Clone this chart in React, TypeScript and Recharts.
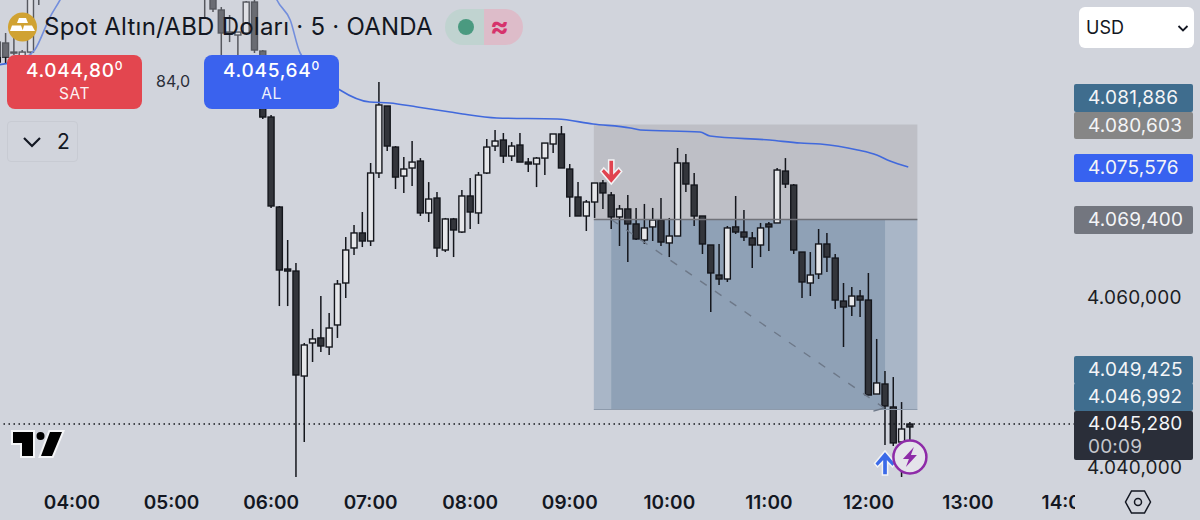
import React from 'react';
import { ComposedChart, Bar, Line, XAxis, YAxis, ReferenceArea, ReferenceLine, ReferenceDot } from 'recharts';

// bar numbers count 5-minute bars from 04:00
const slots = [
  -9, -8, -7, -6, -5, -4,
  16, 17, 18, 19, 20, 21, 22, 23, 24, 25, 26, 27, 28, 29, 30, 31, 32, 33,
  34, 35, 36, 37, 38, 39, 40, 41, 42, 43, 44, 45, 46, 47, 48, 49, 50, 51, 52, 53,
  54, 55, 56, 57, 58, 59, 60, 61, 62, 63, 64, 65, 66, 67, 68, 69, 70, 71, 72, 73,
  74, 75, 76, 77, 78, 79, 80, 81, 82, 83, 84, 85, 86, 87, 88, 89, 90, 91, 92, 93,
  94, 95, 96, 97, 98, 99, 100, 101,
];
const highs = [
  4090.56, 4091.39, 4091.15, 4089.38, 4097.64, 4096.46,
  4096.46, 4096.46, 4094.45, 4093.51, 4091.5, 4095.16, 4095.87, 4089.38,
  4081.72, 4070.99, 4066.98, 4064.27, 4054.84, 4056.49, 4060.37, 4058.37, 4062.26, 4067.33,
  4068.75, 4070.28, 4076.06, 4085.61, 4082.78, 4078.06, 4076.76, 4078.65, 4076.64, 4073.81,
  4072.64, 4069.58, 4069.58, 4072.88, 4074.29, 4075.0, 4078.89, 4079.95, 4079.6, 4078.53,
  4079.6, 4076.64, 4076.76, 4078.41, 4079.48, 4080.42, 4075.94, 4073.81, 4071.7, 4073.7,
  4074.05, 4072.64, 4071.11, 4072.29, 4070.76, 4071.23, 4070.76, 4071.93, 4069.58, 4077.83,
  4077.12, 4074.88, 4069.81, 4066.39, 4066.51, 4068.63, 4072.17, 4070.52, 4067.92, 4068.99,
  4069.1, 4075.47, 4076.64, 4073.58, 4065.56, 4065.56, 4068.28, 4067.81, 4065.33, 4061.91,
  4061.44, 4061.08, 4063.09, 4055.31, 4051.53, 4050.82, 4047.87, 4045.52,
];
const lows = [
  4087.49, 4087.85, 4088.79, 4088.44, 4088.79, 4094.69,
  4093.27, 4093.86, 4088.79, 4090.32, 4088.79, 4091.39, 4089.03, 4081.25,
  4070.76, 4059.19, 4059.19, 4039.03, 4043.16, 4052.59, 4053.77, 4053.42, 4055.43, 4060.14,
  4065.21, 4066.15, 4066.27, 4074.29, 4077.47, 4072.99, 4072.53, 4073.34, 4069.81, 4069.1,
  4064.97, 4065.56, 4064.97, 4067.81, 4068.28, 4068.87, 4074.76, 4077.47, 4076.06, 4076.29,
  4076.17, 4075.0, 4073.22, 4074.64, 4077.24, 4075.47, 4069.7, 4069.81, 4068.04, 4069.58,
  4070.64, 4068.28, 4066.27, 4064.38, 4066.98, 4066.51, 4066.86, 4066.27, 4064.97, 4067.45,
  4072.64, 4068.63, 4065.33, 4058.49, 4061.67, 4062.03, 4067.69, 4066.86, 4063.68, 4064.97,
  4065.68, 4068.99, 4073.11, 4065.33, 4060.14, 4060.37, 4062.38, 4063.2, 4058.84, 4054.36,
  4058.01, 4057.9, 4048.7, 4048.82, 4042.81, 4042.69, 4039.03, 4043.4,
];
const opens = [
  4087.96, 4090.21, 4089.14, 4088.55, 4089.14, 4095.87,
  4095.87, 4095.87, 4094.1, 4091.5, 4091.15, 4091.39, 4095.04, 4089.26,
  4081.48, 4070.87, 4063.56, 4063.32, 4050.94, 4054.84, 4055.43, 4054.36, 4056.96, 4061.91,
  4066.04, 4067.81, 4066.86, 4074.88, 4082.78, 4077.94, 4074.52, 4075.47, 4076.29, 4070.17,
  4071.93, 4065.8, 4069.46, 4067.92, 4072.17, 4070.17, 4074.88, 4078.06, 4078.77, 4076.88,
  4078.18, 4076.17, 4075.94, 4076.64, 4078.3, 4079.48, 4075.35, 4072.05, 4069.81, 4071.46,
  4073.7, 4072.29, 4069.7, 4070.64, 4068.87, 4066.98, 4068.52, 4069.34, 4066.63, 4067.45,
  4076.06, 4073.46, 4069.81, 4066.39, 4062.85, 4062.38, 4068.52, 4067.92, 4067.22, 4066.39,
  4068.87, 4068.99, 4075.11, 4073.46, 4065.56, 4061.91, 4062.97, 4066.51, 4064.85, 4059.78,
  4059.19, 4060.37, 4059.9, 4048.82, 4050.0, 4047.29, 4043.16, 4045.28,
];
const closes = [
  4090.32, 4088.55, 4089.03, 4089.14, 4095.87, 4095.63,
  4095.63, 4094.22, 4091.39, 4091.27, 4091.5, 4095.04, 4089.38, 4081.48,
  4070.99, 4063.44, 4063.32, 4051.06, 4054.6, 4055.31, 4054.48, 4056.6, 4061.79, 4065.8,
  4067.81, 4066.86, 4074.88, 4082.9, 4078.06, 4074.4, 4075.35, 4076.17, 4070.17, 4071.81,
  4066.04, 4069.46, 4068.16, 4072.17, 4070.28, 4074.64, 4077.94, 4078.65, 4076.88, 4078.06,
  4076.17, 4075.94, 4076.64, 4078.41, 4079.48, 4075.47, 4072.05, 4069.81, 4071.46, 4073.7,
  4072.53, 4069.7, 4070.64, 4068.87, 4067.1, 4068.4, 4069.34, 4066.74, 4067.45, 4076.06,
  4073.58, 4069.81, 4066.51, 4063.09, 4062.38, 4068.4, 4067.92, 4067.33, 4066.39, 4068.4,
  4068.52, 4075.23, 4073.58, 4065.8, 4062.03, 4062.85, 4066.51, 4064.97, 4059.9, 4059.08,
  4060.37, 4059.9, 4048.7, 4050.12, 4047.41, 4043.05, 4044.69, 4044.93,
];

// moving average; the null splits the part above the top of the window
const maSlots = [-9, -5.7, -4.5, -2.65, -1.45, -0.7, 12, 24.1, 24.7, 26.3, 27.5, 32.3, 35.9, 38.3, 41.6, 45.6, 47.1, 51.2, 58.5, 62.8, 67.3, 68.5, 75.7, 76.9, 84.1, 87.8, 90.2, 94.7, 97, 98.6, 100.8];
const maValues = [4087.62, 4088.44, 4089.38, 4093.27, 4095.28, 4096.7, null, 4096.7, 4095.28, 4092.92, 4089.03, 4084.67, 4083.25, 4083.14, 4082.66, 4082.07, 4081.84, 4081.37, 4081.25, 4080.66, 4080.19, 4079.95, 4079.71, 4079.24, 4078.77, 4078.41, 4078.3, 4077.59, 4077.0, 4076.29, 4075.576];

const timeTicks = [0, 12, 24, 36, 48, 60, 72, 84, 96, 108, 120];
const timeLabels = ['04:00', '05:00', '06:00', '07:00', '08:00', '09:00', '10:00', '11:00', '12:00', '13:00', '14:00'];
const priceTicks = [4040, 4060];

const lastPrice = 4045.28;
const entryPrice = 4069.4;
const stopPrice = 4080.603;
const targetPrice = 4046.992;

const rows = slots.map((slot, i) => ({
  slot,
  open: opens[i],
  close: closes[i],
  high: highs[i],
  low: lows[i],
  range: [lows[i], highs[i]],
}));
const maRows = maSlots.map((slot, i) => ({ slot, ma: maValues[i] }));

const UI_FONT = 'Inter, "Noto Sans", sans-serif';
const BG = '#d1d4dc';
const BODY_WIDTH = 6;

const formatPrice = (v: number) => {
  const [a, b = ''] = v.toFixed(3).split('.');
  return `${a[0]}.${a.slice(1)},${b}`;
};

const Candle = (props: any) => {
  const { x, y, width, height, payload } = props;
  const { open, close, high, low } = payload;
  const perUnit = height / (high - low);
  const top = y + (high - Math.max(open, close)) * perUnit;
  const bottom = y + (high - Math.min(open, close)) * perUnit;
  const mid = x + width / 2;
  return (
    <g>
      <line x1={mid} x2={mid} y1={y} y2={y + height} stroke="#14161c" strokeWidth={1.5} />
      <rect
        x={mid - BODY_WIDTH / 2}
        y={top}
        width={BODY_WIDTH}
        height={Math.max(bottom - top, 1)}
        fill={close >= open ? '#e6e7ea' : '#33353b'}
        stroke="#14161c"
        strokeWidth={1.4}
      />
    </g>
  );
};

const TimeTick = (props: any) => {
  const { x, payload } = props;
  return (
    <g clipPath="url(#timeClip)">
      <clipPath id="timeClip">
        <rect x={0} y={480} width={1075} height={40} />
      </clipPath>
      <text x={x} y={509} textAnchor="middle" fontFamily={UI_FONT} fontWeight={600} fontSize={19} fill="#131722">
        {timeLabels[timeTicks.indexOf(payload.value)]}
      </text>
    </g>
  );
};

const DownArrow = ({ cx, cy }: any) => (
  <path
    transform={`translate(${cx},${cy})`}
    d="M-2.6,-12 L2.6,-12 L2.6,1 L7.5,-4 L10.5,-0.5 L0,12 L-10.5,-0.5 L-7.5,-4 L-2.6,1 Z"
    fill="#e0434f"
    stroke="#f2f3f5"
    strokeWidth={1.5}
  />
);

const UpArrow = ({ cx, cy }: any) => (
  <path
    transform={`translate(${cx},${cy})`}
    d="M-2.6,12 L2.6,12 L2.6,-1 L7.5,4 L10.5,0.5 L0,-12 L-10.5,0.5 L-7.5,4 L-2.6,-1 Z"
    fill="#3b6ae8"
    stroke="#f2f3f5"
    strokeWidth={1.5}
  />
);

const BoltBadge = ({ cx, cy }: any) => (
  <g transform={`translate(${cx},${cy})`}>
    <circle r={16.5} fill="#e4e3ea" stroke="#8e2ba8" strokeWidth={2.5} />
    <path d="M4,-10 L-7,2 L-1,2 L-4,10 L7,-2 L1,-2 Z" fill="#8e2ba8" />
  </g>
);

const Badge = ({ top, height, bg, children }: any) => (
  <div
    style={{
      position: 'absolute',
      left: 1074,
      width: 119,
      top,
      height,
      background: bg,
      borderRadius: 2,
      color: '#f4f5f7',
      fontFamily: UI_FONT,
      fontSize: 19,
      letterSpacing: 0.2,
      lineHeight: '27px',
      paddingLeft: 14,
      boxSizing: 'border-box',
    }}
  >
    {children}
  </div>
);

const QuoteButton = ({ left, bg, price, tail, label }: any) => (
  <div
    style={{
      position: 'absolute',
      left,
      top: 55,
      width: 135,
      height: 54,
      borderRadius: 8,
      background: bg,
      color: '#fff',
      textAlign: 'center',
      fontFamily: UI_FONT,
    }}
  >
    <div style={{ fontSize: 19, fontWeight: 500, letterSpacing: 0.7, marginTop: 4, lineHeight: '24px' }}>
      {price}
      <sup style={{ fontSize: 12, lineHeight: 0 }}>{tail}</sup>
    </div>
    <div style={{ fontSize: 15.5, letterSpacing: 0.5, lineHeight: '22px', opacity: 0.92 }}>{label}</div>
  </div>
);

const App = () => (
  <div style={{ position: 'absolute', left: 0, top: 0, width: 1200, height: 520, background: BG, overflow: 'hidden' }}>
    <ComposedChart width={1200} height={520} data={rows} margin={{ top: 0, right: 0, bottom: 0, left: 0 }}>
      <XAxis
        dataKey="slot"
        type="number"
        domain={[-8.68, 120.9]}
        allowDataOverflow
        ticks={timeTicks}
        height={30}
        axisLine={false}
        tickLine={false}
        interval={0}
        tick={<TimeTick />}
      />
      <YAxis
        orientation="right"
        type="number"
        domain={[4037.5, 4095.28]}
        allowDataOverflow
        ticks={priceTicks}
        width={125}
        axisLine={false}
        tickLine={false}
        tickFormatter={formatPrice}
        tick={{ fill: '#1b1d24', fontSize: 19, fontFamily: UI_FONT, letterSpacing: 0.2, dy: -1.5 }}
        tickMargin={6}
      />
      <ReferenceArea x1={62.9} x2={101.9} y1={entryPrice} y2={stopPrice} fill="#8b8a90" fillOpacity={0.28} stroke="none" />
      <ReferenceArea x1={62.9} x2={101.9} y1={targetPrice} y2={entryPrice} fill="#6f8aa8" fillOpacity={0.4} stroke="none" />
      <ReferenceArea x1={65} x2={98} y1={targetPrice} y2={entryPrice} fill="#5f7b98" fillOpacity={0.35} stroke="none" />
      <ReferenceLine segment={[{ x: 62.9, y: entryPrice }, { x: 101.9, y: entryPrice }]} stroke="#707279" strokeWidth={1.5} />
      <ReferenceLine segment={[{ x: 62.9, y: targetPrice }, { x: 101.9, y: targetPrice }]} stroke="#8d9aab" strokeWidth={1} />
      <ReferenceLine segment={[{ x: 65, y: entryPrice }, { x: 97.9, y: 4047.17 }]} stroke="#6d7888" strokeWidth={1.4} strokeDasharray="8 10" />
      <ReferenceLine segment={[{ x: 96.6, y: 4046.8 }, { x: 97.9, y: 4047.17 }]} stroke="#6d7888" strokeWidth={1.4} />
      <ReferenceLine y={lastPrice} stroke="#14161c" strokeWidth={1.3} strokeDasharray="1.5 3.5" />
      <Bar dataKey="range" barSize={6} shape={<Candle />} isAnimationActive={false} />
      <Line
        data={maRows}
        dataKey="ma"
        type="monotone"
        dot={false}
        activeDot={false}
        connectNulls={false}
        stroke="#4169dc"
        strokeWidth={1.6}
        isAnimationActive={false}
      />
      <ReferenceDot x={65} y={4075.0} shape={<DownArrow />} />
      <ReferenceDot x={98} y={4040.69} shape={<UpArrow />} />
      <ReferenceDot x={101} y={4041.39} shape={<BoltBadge />} />
    </ComposedChart>

    {/* faded band behind the legend */}
    <div style={{ position: 'absolute', left: 0, top: 0, width: 440, height: 57, background: BG, opacity: 0.35 }} />

    {/* legend */}
    <svg style={{ position: 'absolute', left: 0, top: 0 }} width={60} height={55}>
      <circle cx={22.5} cy={27} r={14.5} fill="#d0a232" />
      <path d="M19,18 L26,18 L28,23 L17,23 Z M12,25.5 L21,25.5 L23,31 L10,31 Z M24,25.5 L32,25.5 L35,31 L22.5,31 Z" fill="#fff" />
    </svg>
    <div style={{ position: 'absolute', left: 44, top: 12, fontFamily: UI_FONT, fontSize: 24, letterSpacing: 0.24, lineHeight: '30px', color: '#131722', whiteSpace: 'nowrap' }}>
      Spot Altın/ABD Doları · 5 · OANDA
    </div>
    <div style={{ position: 'absolute', left: 445, top: 9, width: 39, height: 36, background: '#c0d3d0', borderRadius: '18px 0 0 18px' }}>
      <div style={{ position: 'absolute', left: 13, top: 10, width: 16, height: 16, borderRadius: 8, background: '#4a9a80' }} />
    </div>
    <div style={{ position: 'absolute', left: 484, top: 9, width: 39, height: 36, background: '#ddbcc9', borderRadius: '0 18px 18px 0', color: '#d6336c', fontFamily: UI_FONT, fontSize: 28, fontWeight: 700, lineHeight: '34px', paddingLeft: 6, boxSizing: 'border-box' }}>
      ≈
    </div>

    <QuoteButton left={7} bg="#e3464f" price="4.044,80" tail="0" label="SAT" />
    <QuoteButton left={204} bg="#3a62ee" price="4.045,64" tail="0" label="AL" />
    <div style={{ position: 'absolute', left: 142, width: 62, top: 71, textAlign: 'center', fontFamily: UI_FONT, fontSize: 16, lineHeight: '20px', color: '#2a2e39' }}>84,0</div>

    <div style={{ position: 'absolute', left: 7, top: 121, width: 71, height: 41, border: '1px solid #c8cbd3', borderRadius: 4, boxSizing: 'border-box' }}>
      <svg style={{ position: 'absolute', left: 14, top: 13 }} width={22} height={14}>
        <path d="M2,3 L10,11 L18,3" fill="none" stroke="#131722" strokeWidth={2.2} />
      </svg>
      <div style={{ position: 'absolute', left: 49, top: 7, fontFamily: UI_FONT, fontSize: 21, lineHeight: '26px', color: '#131722' }}>2</div>
    </div>

    {/* currency selector */}
    <div style={{ position: 'absolute', left: 1079, top: 7, width: 115, height: 41, background: '#fff', borderRadius: 6, fontFamily: UI_FONT, fontSize: 18, lineHeight: '41px', paddingLeft: 7, boxSizing: 'border-box', color: '#131722' }}>
      USD
      <svg style={{ position: 'absolute', left: 98, top: 17 }} width={12} height={9}>
        <path d="M1.5,2 L6,6.5 L10.5,2" fill="none" stroke="#131722" strokeWidth={1.8} />
      </svg>
    </div>

    {/* price scale badges */}
    <Badge top={84} height={28} bg="#3f6d8e">4.081,886</Badge>
    <Badge top={112} height={27} bg="#868686">4.080,603</Badge>
    <Badge top={154} height={28} bg="#3762f0">4.075,576</Badge>
    <Badge top={206} height={28} bg="#73767f">4.069,400</Badge>
    <Badge top={356} height={28} bg="#3f6d8e">4.049,425</Badge>
    <Badge top={383} height={28} bg="#3f6d8e">4.046,992</Badge>
    <Badge top={411} height={49} bg="#2a2e39">
      <div style={{ lineHeight: '25px' }}>4.045,280</div>
      <div style={{ lineHeight: '22px', color: '#c4c6cc' }}>00:09</div>
    </Badge>

    {/* TradingView mark */}
    <svg style={{ position: 'absolute', left: 0, top: 420 }} width={80} height={50}>
      <path
        d="M13,12 L33,12 L33,36 L22,36 L22,23 L13,23 Z M50,12 L62,12 L52,36 L41,36 Z"
        fill="#000"
        stroke="#f4f5f7"
        strokeWidth={4}
        paintOrder="stroke"
      />
      <circle cx={40.5} cy={16} r={4} fill="#000" />
    </svg>

    {/* settings icon */}
    <svg style={{ position: 'absolute', left: 1124, top: 489 }} width={28} height={26}>
      <path d="M7.5,2 L20.5,2 L26.5,13 L20.5,24 L7.5,24 L1.5,13 Z" fill="none" stroke="#131722" strokeWidth={1.5} />
      <circle cx={14} cy={13} r={3.5} fill="none" stroke="#131722" strokeWidth={1.5} />
    </svg>
  </div>
);

export default App;
